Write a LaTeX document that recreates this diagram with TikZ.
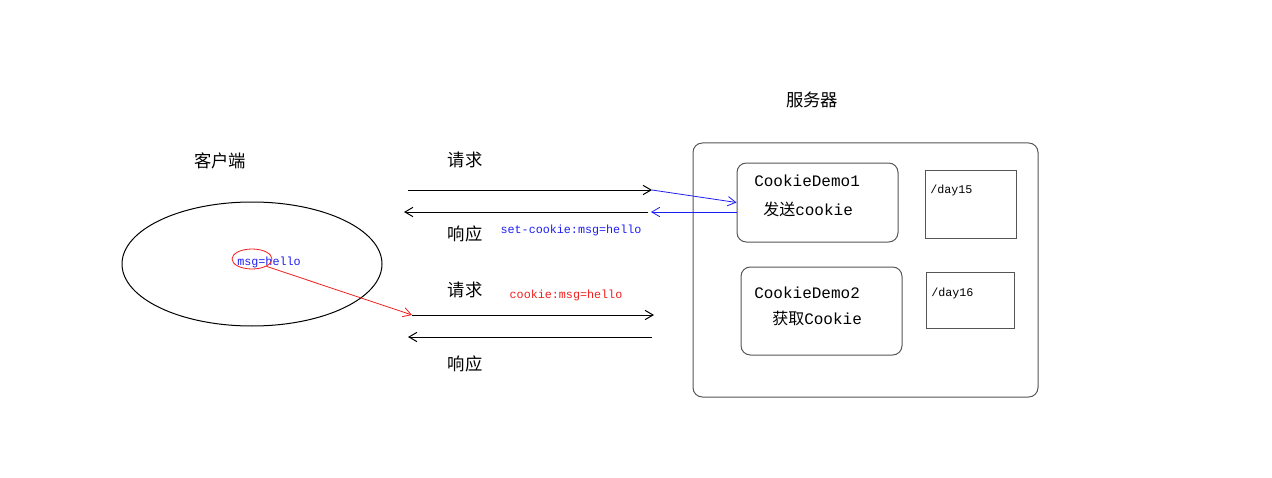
\documentclass[tikz,border=0pt]{standalone}
\usepackage{fontspec}
\setmonofont{Liberation Mono}
\newfontfamily\cjk{Noto Sans CJK SC}
\usetikzlibrary{positioning,arrows.meta,shapes.geometric}
\definecolor{framegray}{RGB}{85,85,85}
\definecolor{tagblue}{RGB}{30,30,240}
\definecolor{tagred}{RGB}{240,30,30}

\begin{document}
\begin{tikzpicture}[x=0.75pt, y=-0.75pt,
  title/.style={font=\cjk\fontsize{13}{15}\selectfont, inner sep=0pt},
  code/.style={font=\ttfamily\fontsize{8.8}{10}\selectfont, inner sep=0pt},
  boxtext/.style={font=\ttfamily\fontsize{12}{14}\selectfont, inner sep=0pt},
  servlet/.style={draw=framegray, line width=0.75pt, rounded corners=7pt, inner sep=0pt},
  folder/.style={draw=framegray, line width=0.75pt, inner sep=0pt},
  arr/.style={-{Straight Barb[length=6pt,width=7pt]}, line width=0.75pt, black},
  barr/.style={-{Straight Barb[length=6pt,width=7pt]}, line width=0.6pt, tagblue},
  rarr/.style={-{Straight Barb[length=6pt,width=7pt]}, line width=0.6pt, tagred}
]
\useasboundingbox (0,0) rectangle (1272,478);

% client side
\node[title] (clientlbl) at (220,161) {客户端};
\node[draw, ellipse, line width=0.75pt, minimum width=195pt, minimum height=93pt, inner sep=0pt] (client) at (252,264) {};
\node[code, text=tagblue] (msg) at (269,262) {msg=hello};
\node[draw=tagred, ellipse, line width=0.6pt, minimum width=30pt, minimum height=15pt, inner sep=0pt] (tag) at (252,259) {};

% server side
\node[title] (serverlbl) at (812,100) {服务器};
\node[servlet, minimum width=258.75pt, minimum height=190.5pt] (server) at (865.5,270) {};
\node[servlet, minimum width=120.75pt, minimum height=59.25pt] (demo1) at (817.5,202.5) {};
\node[boxtext, anchor=west] (demo1a) at (754,181) {CookieDemo1};
\node[boxtext, anchor=west] (demo1b) at (763,209) {{\cjk 发送}cookie};
\node[servlet, minimum width=120.75pt, minimum height=66pt] (demo2) at (821.5,311) {};
\node[boxtext, anchor=west] (demo2a) at (754,293) {CookieDemo2};
\node[boxtext, anchor=west] (demo2b) at (772,318) {{\cjk 获取}Cookie};
\node[folder, minimum width=68.25pt, minimum height=51pt] (day15) at (970.5,204) {};
\node[code, anchor=west] (day15lbl) at (930,190) {/day15};
\node[folder, minimum width=66pt, minimum height=42pt] (day16) at (970,300) {};
\node[code, anchor=west] (day16lbl) at (931,293) {/day16};

% first exchange
\coordinate (q1a) at (408,190);
\coordinate (q1b) at (652,190);
\coordinate (r1a) at (648,212);
\coordinate (r1b) at (404,212);
\coordinate (r1c) at (651,212);
\node[title] (req1) at (465,160) {请求};
\node[title] (res1) at (465,234) {响应};
\node[code, text=tagblue] (setc) at (571,230) {set-cookie:msg=hello};
\draw[arr] (q1a) -- (q1b);
\draw[barr] (q1b) -- (demo1.west);
\draw[barr] (demo1.west |- r1c) -- (r1c);
\draw[arr] (r1a) -- (r1b);

% second exchange
\coordinate (q2a) at (412,315);
\coordinate (q2b) at (654,315);
\coordinate (r2a) at (652,337);
\coordinate (r2b) at (408,337);
\node[title] (req2) at (465,290) {请求};
\node[title] (res2) at (465,364) {响应};
\node[code, text=tagred] (getc) at (566,295) {cookie:msg=hello};
\draw[rarr] (tag.south east) -- (q2a);
\draw[arr] (q2a) -- (q2b);
\draw[arr] (r2a) -- (r2b);
\end{tikzpicture}
\end{document}
